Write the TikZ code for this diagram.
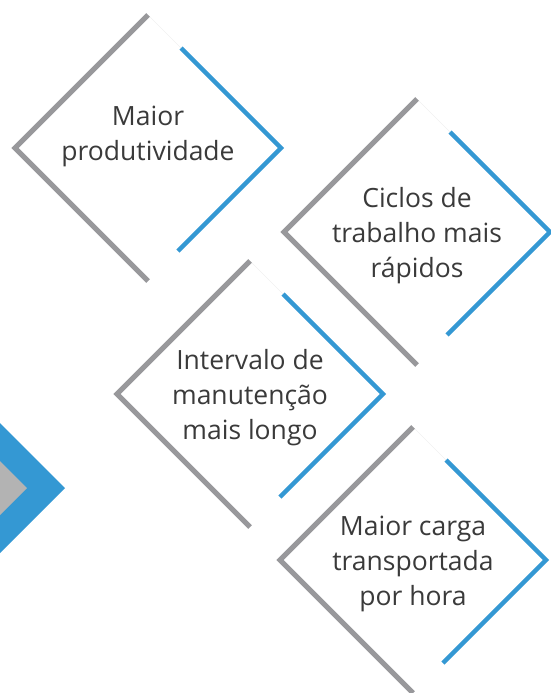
\documentclass[tikz,border=0pt]{standalone}
\usepackage{fontspec}
\setmainfont{Open Sans}
\definecolor{vwgray}{HTML}{98989B}
\definecolor{vwblue}{HTML}{3498D3}
\definecolor{vwlight}{HTML}{B3B3B3}
\definecolor{vwtext}{HTML}{3A3A3A}
\begin{document}
\begin{tikzpicture}[x=1pt,y=-1pt,
  grayside/.style={draw=vwgray,line width=5pt,line join=miter},
  blueside/.style={draw=vwblue,line width=4.5pt,line join=miter},
  faint/.style={draw=black!6,line width=0.4pt},
  label/.style={text=vwtext,font=\fontsize{26.5}{35}\selectfont,align=center,inner sep=0pt}]
\useasboundingbox (0,0) rectangle (550,693);
% left partial diamond
\fill[vwblue] (0,423) -- (65,488) -- (0,553) -- cycle;
\fill[vwlight] (0,461) -- (27,488) -- (0,515) -- cycle;
% diamonds: centre (cx,cy), half-diagonal 133
\foreach \cx/\cy/\nm in {148/148/a,417/232/b,250/394/c,413/560/d}{
  \coordinate (\nm t) at (\cx,\cy-133);
  \coordinate (\nm l) at (\cx-133,\cy);
  \coordinate (\nm b) at (\cx,\cy+133);
  \coordinate (\nm r) at (\cx+133,\cy);
  \coordinate (\nm s) at (\cx+33,\cy-100);
  \coordinate (\nm e) at (\cx+30,\cy+103);
  \draw[faint] (\nm t) -- (\nm s);
  \draw[grayside] (\nm t) -- (\nm l) -- (\nm b);
  \draw[blueside] (\nm s) -- (\nm r) -- (\nm e);
}
\node[label] (ta) at (148,136) {Maior\\produtividade};
\node[label] (tb) at (417,236) {Ciclos de\\trabalho mais\\rápidos};
\node[label] (tc) at (250,398) {Intervalo de\\manutenção\\mais longo};
\node[label] (td) at (413,564) {Maior carga\\transportada\\por hora};
\end{tikzpicture}
\end{document}
